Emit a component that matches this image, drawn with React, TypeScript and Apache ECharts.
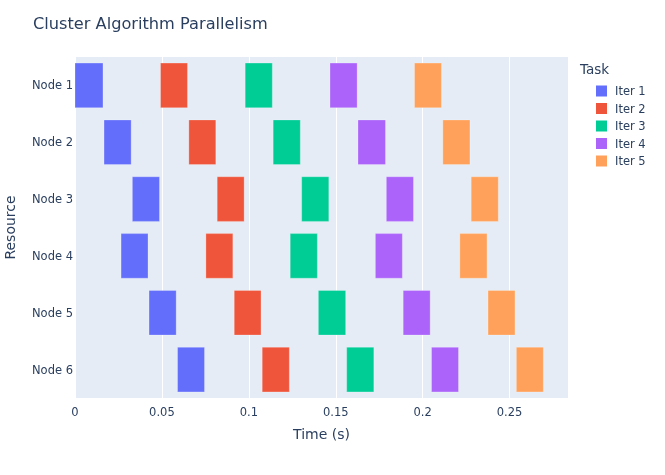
import React, { useEffect, useRef } from "react";
import * as echarts from "echarts";

const nodes = ["Node 1", "Node 2", "Node 3", "Node 4", "Node 5", "Node 6"];
const tasks = ["Iter 1", "Iter 2", "Iter 3", "Iter 4", "Iter 5"];
const colors = ["#636efa", "#EF553B", "#00cc96", "#ab63fa", "#FFA15A"];

const iter1Start = [0.0, 0.0167, 0.033, 0.0265, 0.0426, 0.059];
const iter1End = [0.0161, 0.0323, 0.0486, 0.042, 0.0582, 0.0745];
const iter2Start = [0.0492, 0.0655, 0.0818, 0.0753, 0.0916, 0.1077];
const iter2End = [0.0647, 0.081, 0.0973, 0.0908, 0.107, 0.1233];
const iter3Start = [0.0979, 0.114, 0.1304, 0.1238, 0.14, 0.1563];
const iter3End = [0.1135, 0.1296, 0.146, 0.1394, 0.1557, 0.1719];
const iter4Start = [0.1467, 0.1628, 0.1791, 0.1728, 0.1888, 0.2051];
const iter4End = [0.1623, 0.1786, 0.1947, 0.1883, 0.2043, 0.2206];
const iter5Start = [0.1953, 0.2116, 0.2279, 0.2214, 0.2376, 0.2539];
const iter5End = [0.2108, 0.2272, 0.2435, 0.237, 0.2531, 0.2694];

const starts = [iter1Start, iter2Start, iter3Start, iter4Start, iter5Start];
const ends = [iter1End, iter2End, iter3End, iter4End, iter5End];

const xMax = 0.2836;
const FONT = '"DejaVu Sans", Verdana, sans-serif';
const TXT = "#2a3f5f";

export default function App() {
  const ref = useRef<HTMLDivElement>(null);
  useEffect(() => {
    if (!ref.current) return;
    const chart = echarts.init(ref.current, null, { renderer: "svg" });
    const series = tasks.map((t, i) => ({
      type: "custom",
      name: t,
      itemStyle: { color: colors[i] },
      encode: { x: [1, 2], y: 0 },
      data: nodes.map((_, n) => [n, starts[i][n], ends[i][n]]),
      renderItem: (params: any, api: any) => {
        const y = api.value(0);
        const s = api.coord([api.value(1), y]);
        const e = api.coord([api.value(2), y]);
        const h = api.size([0, 1])[1] * 0.785;
        return {
          type: "rect",
          shape: { x: s[0], y: s[1] - h / 2, width: e[0] - s[0], height: h },
          style: { fill: api.visual("color"), stroke: "rgba(255,255,255,0.5)", lineWidth: 0.5 },
        };
      },
    }));
    chart.setOption({
      animation: false,
      textStyle: { fontFamily: FONT },
      title: [
        {
          text: "Cluster Algorithm Parallelism",
          left: 28,
          top: 10,
          textStyle: { color: TXT, fontSize: 16.2, fontWeight: "normal", fontFamily: FONT },
        },
        {
          text: "Task",
          left: 575,
          top: 57,
          textStyle: { color: TXT, fontSize: 13.5, fontWeight: "normal", fontFamily: FONT },
        },
      ],
      legend: {
        orient: "vertical",
        left: 591,
        top: 80,
        icon: "rect",
        itemWidth: 11,
        itemHeight: 11,
        itemGap: 5.5,
        data: tasks,
        textStyle: { color: TXT, fontSize: 11.5, fontFamily: FONT, padding: [0, 0, 0, 3] },
      },
      grid: {
        left: 75,
        right: 97,
        top: 57,
        bottom: 77,
        show: true,
        backgroundColor: "#E5ECF6",
        borderWidth: 0,
        containLabel: false,
        outerBoundsMode: "none",
      },
      xAxis: {
        type: "value",
        min: 0,
        max: xMax,
        interval: 0.05,
        name: "Time (s)",
        nameLocation: "middle",
        nameGap: 29,
        nameTextStyle: { color: TXT, fontSize: 14, fontFamily: FONT },
        axisLine: { show: false },
        axisTick: { show: false },
        axisLabel: { color: TXT, fontSize: 11.5, margin: 8, showMaxLabel: false, fontFamily: FONT },
        splitLine: { show: true, showMaxLine: false, lineStyle: { color: "#ffffff", width: 1 } },
      },
      yAxis: {
        type: "category",
        data: nodes,
        inverse: true,
        name: "Resource",
        nameLocation: "middle",
        nameGap: 58,
        nameTextStyle: { color: TXT, fontSize: 14, fontFamily: FONT },
        axisLine: { show: false },
        axisTick: { show: false },
        axisLabel: { color: TXT, fontSize: 11.5, margin: 2, fontFamily: FONT },
        splitLine: { show: false },
      },
      series,
    });
    return () => chart.dispose();
  }, []);
  return (
    <div
      ref={ref}
      style={{ position: "fixed", left: 0, top: 0, width: 665, height: 475 }}
    />
  );
}
